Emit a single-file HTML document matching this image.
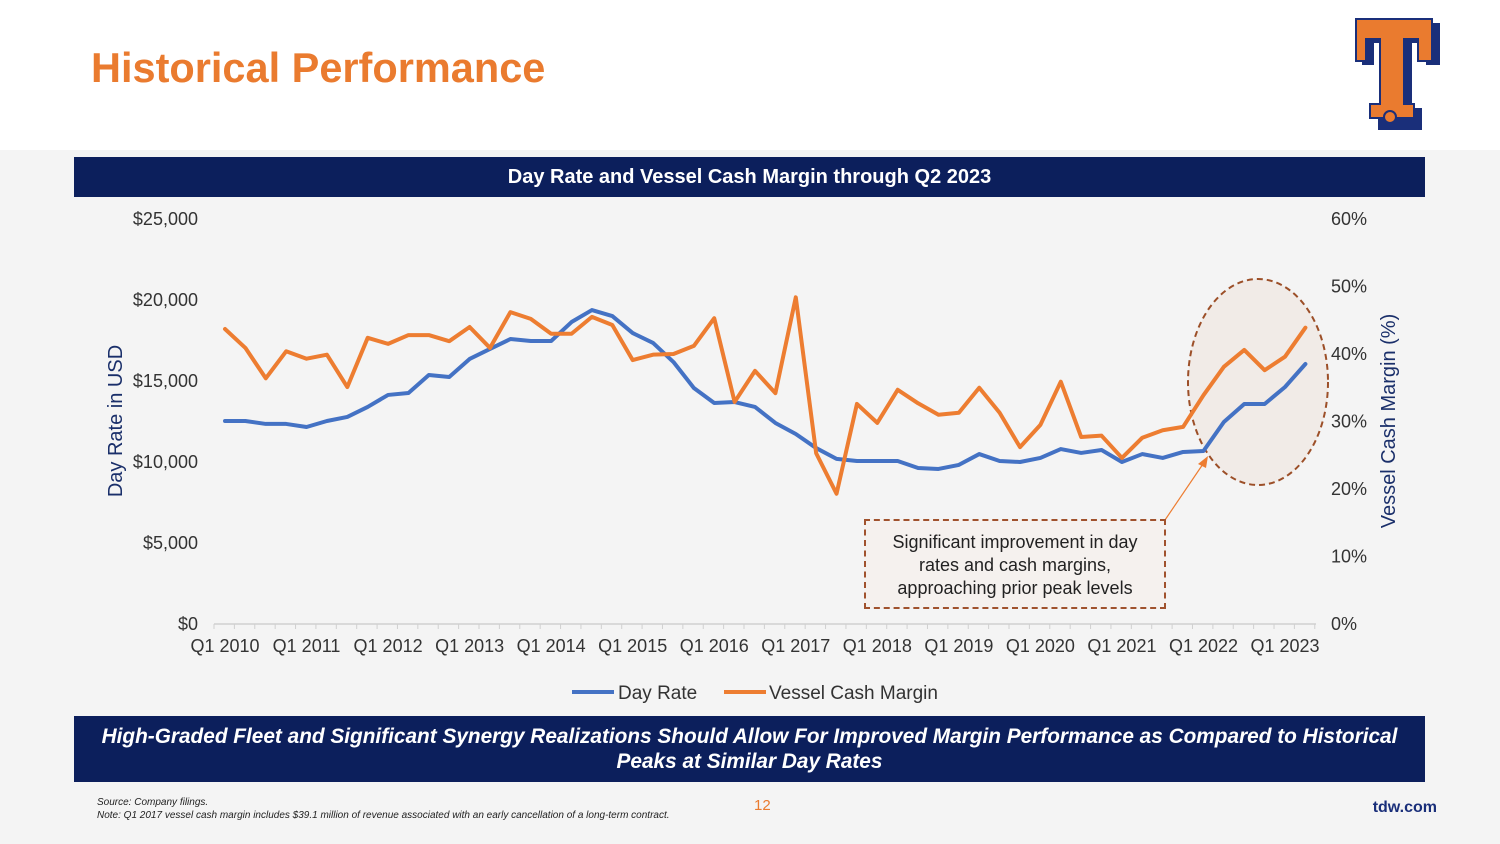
<!DOCTYPE html>
<html><head><meta charset="utf-8"><style>
body{margin:0;width:1500px;height:844px;background:#f4f4f4;font-family:"Liberation Sans",Arial,sans-serif;position:relative;overflow:hidden}
.abs{position:absolute}
</style></head><body>
<div class="abs" style="left:0;top:0;width:1500px;height:150px;background:#fff"></div>
<div class="abs" style="left:91px;top:44px;font-size:41.5px;font-weight:bold;color:#ea7b2f">Historical Performance</div>
<svg class="abs" style="left:1350px;top:15px" width="95" height="125" viewBox="0 0 95 125">
<path d="M12 8h78v42h-14v-22h-14v65h10v22h-44v-22h10v-65h-14v22h-12z" fill="#1a2f7a"/>
<path d="M6 4h76v42h-14v-22h-14v65h10v14h-44v-14h10v-65h-14v22h-10z" fill="#ea7b2f" stroke="#1a2f7a" stroke-width="2"/>
<circle cx="40" cy="102" r="6" fill="#ea7b2f" stroke="#1a2f7a" stroke-width="2"/>
</svg>
<div class="abs" style="left:74px;top:157px;width:1351px;height:40px;background:#0c1f5c;color:#fff;font-weight:bold;font-size:20px;text-align:center;line-height:40px">Day Rate and Vessel Cash Margin through Q2 2023</div>
<svg id="chart" class="abs" style="left:0;top:0" width="1500" height="844"></svg>
<div class="abs" style="left:864px;top:519px;border:2px dashed #a0522d;background:#f5f1ee;font-size:18px;color:#222;text-align:center;line-height:23px;padding-top:10px;box-sizing:border-box;width:302px;height:90px">Significant improvement in day<br>rates and cash margins,<br>approaching prior peak levels</div>
<div class="abs" style="left:74px;top:716px;width:1351px;height:66px;background:#0c1f5c;color:#fff;font-weight:bold;font-style:italic;font-size:20.8px;text-align:center;line-height:25px;padding-top:8px;box-sizing:border-box">High-Graded Fleet and Significant Synergy Realizations Should Allow For Improved Margin Performance as Compared to Historical<br>Peaks at Similar Day Rates</div>
<div class="abs" style="left:97px;top:796px;font-size:10px;font-style:italic;color:#222;line-height:13px">Source: Company filings.<br>Note: Q1 2017 vessel cash margin includes $39.1 million of revenue associated with an early cancellation of a long-term contract.</div>
<div class="abs" style="left:754px;top:797px;font-size:15px;color:#ea7b2f">12</div>
<div class="abs" style="right:63px;top:799px;font-size:16px;font-weight:bold;color:#1a2f7a">tdw.com</div>
<script>
const categories=["Q1 2010","Q1 2011","Q1 2012","Q1 2013","Q1 2014","Q1 2015","Q1 2016","Q1 2017","Q1 2018","Q1 2019","Q1 2020","Q1 2021","Q1 2022","Q1 2023"];
const dayRate=[12530,12530,12350,12350,12160,12530,12780,13400,14140,14260,15370,15250,16360,16980,17590,17470,17470,18640,19380,19010,17960,17350,16170,14570,13640,13700,13400,12410,11730,10860,10190,10060,10060,10060,9630,9570,9820,10490,10060,10000,10250,10800,10560,10740,10000,10490,10250,10620,10680,12470,13580,13580,14630,16050];
const margin=[43.7,40.9,36.4,40.4,39.3,39.9,35.1,42.4,41.5,42.8,42.8,41.9,44.0,40.9,46.2,45.2,43.0,43.0,45.5,44.3,39.1,39.9,40.0,41.2,45.3,32.9,37.5,34.2,48.4,25.3,19.3,32.6,29.8,34.7,32.7,31.0,31.3,35.0,31.3,26.2,29.5,35.9,27.7,27.9,24.6,27.6,28.7,29.2,33.9,38.1,40.6,37.6,39.6,43.9];
const leftTicks=[0,5000,10000,15000,20000,25000];
const rightTicks=[0,10,20,30,40,50,60];
const svg=document.getElementById('chart');const NS='http://www.w3.org/2000/svg';
const x0=225,dx=20.385,yBase=624,yTop=219;
const X=i=>x0+i*dx;
const YL=v=>yBase-(v/25000)*(yBase-yTop);
const YR=v=>yBase-(v/60)*(yBase-yTop);
function mk(t,a,txt){const e=document.createElementNS(NS,t);for(const k in a)e.setAttribute(k,a[k]);if(txt!==undefined)e.textContent=txt;svg.appendChild(e);return e;}
let el=mk('ellipse',{cx:1258,cy:382,rx:70,ry:103,fill:'#f1ebe7',stroke:'#9c4f28','stroke-width':2,'stroke-dasharray':'6,4'});


let ax=mk('line',{x1:214,y1:yBase,x2:1316,y2:yBase,stroke:'#d0d0d0','stroke-width':1.5});


for(let i=0;i<=54;i++){let t=mk('line',{x1:214+i*dx,y1:yBase,x2:214+i*dx,y2:yBase+5,stroke:'#d0d0d0'});

}
categories.forEach((c,k)=>{let t=mk('text',{x:X(k*4),y:652,'text-anchor':'middle','font-size':18,fill:'#333'},c);

});
leftTicks.forEach(v=>{let t=mk('text',{x:198,y:YL(v)+6,'text-anchor':'end','font-size':18,fill:'#333'},'$'+v.toLocaleString('en-US'));

});
rightTicks.forEach(v=>{let t=mk('text',{x:1331,y:YR(v)+6,'font-size':18,fill:'#333'},v+'%');

});
let lt=mk('text',{x:0,y:0,transform:'translate(122,421) rotate(-90)','text-anchor':'middle','font-size':20,fill:'#1a2f6a'},'Day Rate in USD');


let rt=mk('text',{x:0,y:0,transform:'translate(1395,421) rotate(-90)','text-anchor':'middle','font-size':20,fill:'#1a2f6a'},'Vessel Cash Margin (%)');


let p1=mk('polyline',{points:dayRate.map((v,i)=>X(i)+','+YL(v)).join(' '),fill:'none',stroke:'#4472c4','stroke-width':4,'stroke-linejoin':'round','stroke-linecap':'round'});


let p2=mk('polyline',{points:margin.map((v,i)=>X(i)+','+YR(v)).join(' '),fill:'none',stroke:'#ed7d31','stroke-width':4,'stroke-linejoin':'round','stroke-linecap':'round'});


let ar=mk('line',{x1:1165,y1:520,x2:1203,y2:464,stroke:'#ed7d31','stroke-width':1.2});


let ah=mk('polygon',{points:'1208,456 1198,464 1206,468',fill:'#ed7d31'});


let l1=mk('line',{x1:572,y1:692,x2:614,y2:692,stroke:'#4472c4','stroke-width':4});


let t1=mk('text',{x:618,y:699,'font-size':19,fill:'#333'},'Day Rate');


let l2=mk('line',{x1:724,y1:692,x2:766,y2:692,stroke:'#ed7d31','stroke-width':4});


let t2=mk('text',{x:769,y:699,'font-size':19,fill:'#333'},'Vessel Cash Margin');


</script>
</body></html>
